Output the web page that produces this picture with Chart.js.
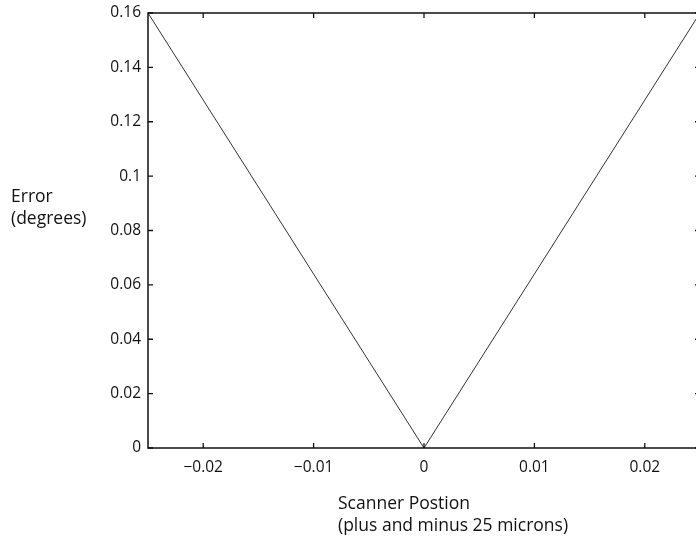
<!DOCTYPE html>
<html>
<head>
<meta charset="utf-8">
<script src="https://cdn.jsdelivr.net/npm/chart.js@4"></script>
<style>
  html, body { margin: 0; padding: 0; background: #fff; overflow: hidden; }
  #wrap { width: 712px; height: 541px; }
</style>
</head>
<body>
<div id="wrap"><canvas id="errChart"></canvas></div>
<script>
// Data
const positions = [-0.025, 0, 0.025];
const errors = [0.16, 0, 0.16];
const xTicks = [-0.02, -0.01, 0, 0.01, 0.02];
const xTickLabels = ['\u22120.02', '\u22120.01', '0', '0.01', '0.02'];
const yTicks = [0, 0.02, 0.04, 0.06, 0.08, 0.1, 0.12, 0.14, 0.16];
const yTickLabels = ['0', '0.02', '0.04', '0.06', '0.08', '0.1', '0.12', '0.14', '0.16'];
const yTitle = ['Error', '(degrees)'];
const xTitle = ['Scanner Postion', '(plus and minus 25 microns)'];

const FONT = '"Open Sans", "Noto Sans", sans-serif';

// box, inward ticks and the left-aligned titles
const framePlugin = {
    id: 'frame',
    afterDraw(chart) {
        const { ctx, chartArea: a, scales } = chart;
        ctx.save();
        ctx.strokeStyle = '#111';
        ctx.lineWidth = 1.5;
        ctx.strokeRect(a.left, a.top, a.right - a.left, a.bottom - a.top);
        ctx.lineWidth = 1.3;
        ctx.beginPath();
        xTicks.forEach(v => {
            const x = scales.x.getPixelForValue(v);
            ctx.moveTo(x, a.bottom); ctx.lineTo(x, a.bottom - 5);
            ctx.moveTo(x, a.top); ctx.lineTo(x, a.top + 5);
        });
        yTicks.forEach(v => {
            const y = scales.y.getPixelForValue(v);
            ctx.moveTo(a.left, y); ctx.lineTo(a.left + 5, y);
            ctx.moveTo(a.right, y); ctx.lineTo(a.right - 5, y);
        });
        ctx.stroke();

        ctx.fillStyle = '#111';
        ctx.font = '17.5px ' + FONT;
        ctx.textAlign = 'left';
        ctx.textBaseline = 'middle';
        ctx.fillText(yTitle[0], 11, 197);
        ctx.fillText(yTitle[1], 11, 219);
        ctx.fillText(xTitle[0], 338, 504);
        ctx.fillText(xTitle[1], 338, 526);
        ctx.restore();
    }
};

const ctxErr = document.getElementById('errChart').getContext('2d');
new Chart(ctxErr, {
    type: 'line',
    data: {
        datasets: [{
            data: positions.map((p, i) => ({ x: p, y: errors[i] })),
            borderColor: '#333',
            borderWidth: 1,
            pointRadius: 0,
            tension: 0
        }]
    },
    options: {
        responsive: true,
        maintainAspectRatio: false,
        animation: false,
        layout: { padding: { left: 0, top: 13, right: 12, bottom: 0 } },
        plugins: { legend: { display: false }, tooltip: { enabled: false } },
        scales: {
            x: {
                type: 'linear',
                min: -0.025,
                max: 0.025,
                afterBuildTicks: s => { s.ticks = xTicks.map(v => ({ value: v })); },
                afterFit: s => { s.height = 93; s.paddingLeft = 0; s.paddingRight = 0; },
                grid: { display: false, drawTicks: false },
                border: { display: false },
                ticks: {
                    padding: 10,
                    color: '#111',
                    font: { family: FONT, size: 15.5 },
                    maxRotation: 0,
                    callback: v => xTickLabels[xTicks.indexOf(v)]
                }
            },
            y: {
                min: 0,
                max: 0.16,
                afterBuildTicks: s => { s.ticks = yTicks.map(v => ({ value: v })); },
                afterFit: s => { s.width = 148; s.paddingTop = 0; s.paddingBottom = 0; },
                grid: { display: false, drawTicks: false },
                border: { display: false },
                ticks: {
                    padding: 7,
                    color: '#111',
                    font: { family: FONT, size: 15.5 },
                    callback: v => yTickLabels[yTicks.indexOf(v)]
                }
            }
        }
    },
    plugins: [framePlugin]
});
</script>
</body>
</html>
